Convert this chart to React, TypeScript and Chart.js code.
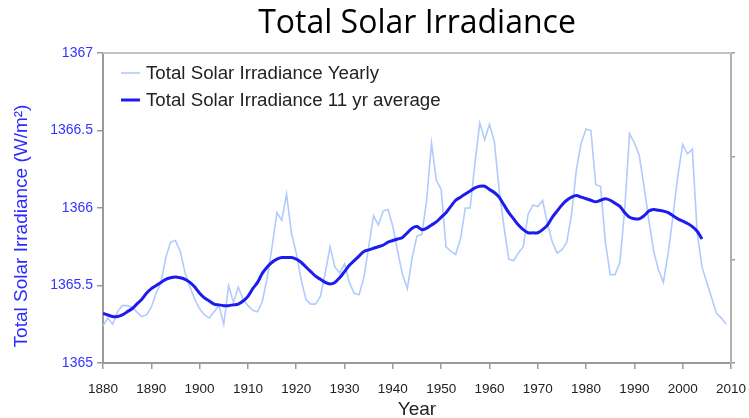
import React, { useEffect, useRef } from "react";
import { Chart, registerables } from "chart.js";

Chart.register(...registerables);

const titleText = "Total Solar Irradiance";
const yAxisTitle = "Total Solar Irradiance (W/m²)";
const xAxisTitle = "Year";
const yearlyLabel = "Total Solar Irradiance Yearly";
const avgLabel = "Total Solar Irradiance 11 yr average";

const yearlyStart = 1880;
// 1880 - 2009
const yearlyValues = [
  1365.24, 1365.29, 1365.25, 1365.33, 1365.37, 1365.37, 1365.36, 1365.33, 1365.30, 1365.31,
  1365.36, 1365.45, 1365.52, 1365.68, 1365.78, 1365.79, 1365.72, 1365.58, 1365.49, 1365.41,
  1365.35, 1365.31, 1365.29, 1365.33, 1365.37, 1365.25, 1365.50, 1365.39, 1365.49, 1365.41,
  1365.37, 1365.34, 1365.33, 1365.40, 1365.55, 1365.75, 1365.97, 1365.92, 1366.09, 1365.84,
  1365.71, 1365.54, 1365.41, 1365.38, 1365.38, 1365.43, 1365.58, 1365.75, 1365.62, 1365.58,
  1365.64, 1365.52, 1365.45, 1365.44, 1365.55, 1365.75, 1365.95, 1365.89, 1365.98, 1365.99,
  1365.88, 1365.72, 1365.57, 1365.48, 1365.68, 1365.82, 1365.83, 1366.05, 1366.42, 1366.18,
  1366.12, 1365.75, 1365.72, 1365.70, 1365.80, 1366.00, 1366.00, 1366.29, 1366.55, 1366.44,
  1366.54, 1366.43, 1366.12, 1365.88, 1365.67, 1365.66, 1365.71, 1365.75, 1365.96, 1366.02,
  1366.01, 1366.05, 1365.90, 1365.78, 1365.71, 1365.73, 1365.78, 1365.96, 1366.25, 1366.42,
  1366.51, 1366.50, 1366.15, 1366.14, 1365.78, 1365.57, 1365.57, 1365.65, 1365.99, 1366.48,
  1366.42, 1366.34, 1366.14, 1365.92, 1365.72, 1365.60, 1365.52, 1365.71, 1365.95, 1366.21,
  1366.41, 1366.35, 1366.38, 1365.84, 1365.62, 1365.52, 1365.42, 1365.32, 1365.29, 1365.25,
];

const avgStart = 1880;
// 1880 - 2004
const avgValues = [
  1365.32, 1365.31, 1365.30, 1365.30, 1365.31, 1365.33, 1365.35, 1365.38, 1365.41, 1365.45,
  1365.48, 1365.50, 1365.52, 1365.54, 1365.55, 1365.555, 1365.55, 1365.54, 1365.52, 1365.49,
  1365.45, 1365.42, 1365.40, 1365.38, 1365.375, 1365.37, 1365.37, 1365.375, 1365.38, 1365.40,
  1365.43, 1365.48, 1365.52, 1365.58, 1365.62, 1365.65, 1365.67, 1365.68, 1365.68, 1365.68,
  1365.67, 1365.65, 1365.62, 1365.59, 1365.56, 1365.54, 1365.52, 1365.51, 1365.52, 1365.55,
  1365.59, 1365.63, 1365.66, 1365.69, 1365.72, 1365.73, 1365.74, 1365.75, 1365.76, 1365.78,
  1365.79, 1365.80, 1365.81, 1365.84, 1365.87, 1365.88, 1365.86, 1365.87, 1365.89, 1365.91,
  1365.94, 1365.97, 1366.01, 1366.05, 1366.07, 1366.09, 1366.11, 1366.13, 1366.14, 1366.14,
  1366.12, 1366.10, 1366.07, 1366.02, 1365.97, 1365.93, 1365.89, 1365.86, 1365.84, 1365.84,
  1365.84, 1365.86, 1365.89, 1365.94, 1365.98, 1366.02, 1366.05, 1366.07, 1366.08, 1366.07,
  1366.06, 1366.05, 1366.04, 1366.05, 1366.06, 1366.05, 1366.03, 1366.01, 1365.97, 1365.94,
  1365.93, 1365.93, 1365.95, 1365.98, 1365.99, 1365.985, 1365.98, 1365.97, 1365.95, 1365.93,
  1365.915, 1365.90, 1365.88, 1365.85, 1365.80,
];

const xTicks = [1880, 1890, 1900, 1910, 1920, 1930, 1940, 1950, 1960, 1970, 1980, 1990, 2000, 2010];
const yTicks = [1365, 1365.5, 1366, 1366.5, 1367];
const yTickLabels = ["1365", "1365.5", "1366", "1366.5", "1367"];
const rightTicks = [0, 1, 2, 3];

const FONT = "'Liberation Sans', Arial, sans-serif";

const framePlugin = {
  id: "frameAndLegend",
  beforeDatasetsDraw(chart: any) {
    const { ctx, chartArea } = chart;
    const { left, top, right } = chartArea;
    ctx.save();
    ctx.strokeStyle = "#c4c4c4";
    ctx.lineWidth = 2;
    ctx.beginPath();
    ctx.moveTo(left, top);
    ctx.lineTo(right, top);
    ctx.stroke();
    ctx.restore();
  },
  afterDraw(chart: any) {
    const { ctx, chartArea } = chart;
    const { left, top, right } = chartArea;
    ctx.save();
    // title centered over plot area
    ctx.font = "32px 'Open Sans', Lato, sans-serif";
    ctx.fillStyle = "#000";
    ctx.textAlign = "center";
    ctx.textBaseline = "middle";
    ctx.fillText(titleText, (left + right) / 2, 24);
    // y axis title
    ctx.save();
    ctx.translate(22, 226);
    ctx.rotate(-Math.PI / 2);
    ctx.font = "19px " + FONT;
    ctx.fillStyle = "#2a2aff";
    ctx.fillText(yAxisTitle, 0, 0);
    ctx.restore();
    // legend inside plot
    ctx.font = "18.7px " + FONT;
    ctx.textAlign = "left";
    chart.data.datasets.forEach((ds: any, i: number) => {
      const y = top + 20 + i * 27;
      ctx.strokeStyle = ds.borderColor;
      ctx.lineWidth = ds.borderWidth;
      ctx.beginPath();
      ctx.moveTo(left + 18, y);
      ctx.lineTo(left + 37, y);
      ctx.stroke();
      ctx.fillStyle = "#222";
      ctx.fillText(ds.label, left + 43, y + 1);
    });
    ctx.restore();
  },
};

export default function App() {
  const ref = useRef<HTMLCanvasElement | null>(null);
  useEffect(() => {
    document.body.style.margin = "0";
    const canvas = ref.current;
    if (!canvas) return;
    const chart = new Chart(canvas, {
      type: "line",
      data: {
        datasets: [
          {
            label: yearlyLabel,
            data: yearlyValues.map((v, i) => ({ x: yearlyStart + i, y: v })),
            borderColor: "#b0cbfd",
            borderWidth: 1.6,
            pointRadius: 0,
            tension: 0,
            order: 1,
          },
          {
            label: avgLabel,
            data: avgValues.map((v, i) => ({ x: avgStart + i, y: v })),
            borderColor: "#1c1cf0",
            borderWidth: 3,
            pointRadius: 0,
            tension: 0.3,
            order: 0,
          },
        ],
      },
      options: {
        animation: false,
        responsive: false,
        layout: { padding: { top: 53, left: 0, right: 0, bottom: 0 } },
        plugins: {
          legend: { display: false },
          title: { display: false },
          tooltip: { enabled: false },
        },
        scales: {
          x: {
            type: "linear",
            min: 1880,
            max: 2010,
            afterBuildTicks: (s: any) => {
              s.ticks = xTicks.map((v) => ({ value: v }));
            },
            afterFit: (s: any) => {
              s.height = 55;
              s.paddingLeft = 0;
              s.paddingRight = 0;
            },
            ticks: {
              autoSkip: false,
              maxRotation: 0,
              padding: 12,
              color: "#222",
              font: { family: FONT, size: 13.5 },
              callback: (v: any) => String(v),
            },
            grid: { drawOnChartArea: false, tickLength: 6, color: "#9a9a9a", lineWidth: 1.5 },
            border: { color: "#9a9a9a", width: 2 },
            title: {
              display: true,
              text: xAxisTitle,
              color: "#222",
              font: { family: FONT, size: 19 },
              padding: { top: 0, bottom: -3 },
            },
          },
          y: {
            type: "linear",
            min: 1365,
            max: 1367,
            afterBuildTicks: (s: any) => {
              s.ticks = yTicks.map((v) => ({ value: v }));
            },
            afterFit: (s: any) => {
              s.width = 103;
              s.paddingTop = 0;
              s.paddingBottom = 0;
            },
            ticks: {
              padding: 4,
              color: "#3333ff",
              font: { family: FONT, size: 14 },
              callback: (v: any) => {
                const i = yTicks.indexOf(Number(v));
                return i >= 0 ? yTickLabels[i] : String(v);
              },
            },
            grid: { drawOnChartArea: false, tickLength: 6, color: "#9a9a9a", lineWidth: 1.5 },
            border: { color: "#9a9a9a", width: 2 },
          },
          y2: {
            type: "linear",
            position: "right",
            min: 0,
            max: 3,
            afterBuildTicks: (s: any) => {
              s.ticks = rightTicks.map((v) => ({ value: v }));
            },
            afterFit: (s: any) => {
              s.width = 18;
            },
            ticks: { display: false },
            grid: { drawOnChartArea: false, tickLength: 4, color: "#9a9a9a", lineWidth: 1.5 },
            border: { color: "#b0b0b0", width: 2 },
          },
        },
      } as any,
      plugins: [framePlugin],
    });
    return () => chart.destroy();
  }, []);
  return (
    <div style={{ width: 749, height: 418, background: "#fff" }}>
      <canvas ref={ref} width={749} height={418} style={{ display: "block" }} />
    </div>
  );
}
